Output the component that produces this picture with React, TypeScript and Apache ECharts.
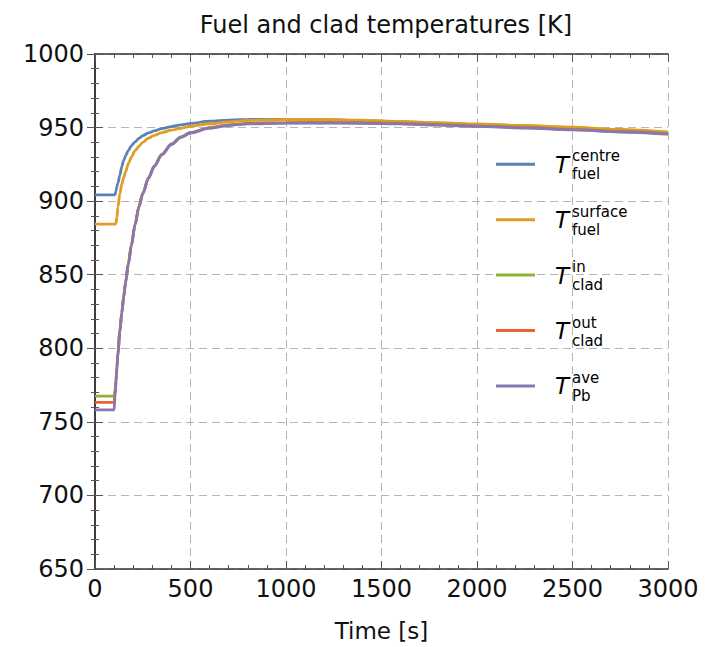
import React, { useEffect, useRef } from "react";
import * as echarts from "echarts";

const titleText = "Fuel and clad temperatures [K]";
const xName = "Time [s]";

const times = [0, 100, 105, 110, 115, 120, 130, 140, 150, 160, 175, 190, 210, 230, 250, 280, 310, 350, 400, 450, 500, 600, 700, 800, 1000, 1200, 1400, 1600, 1800, 2000, 2250, 2500, 2750, 3000];

const fuelCentre = [904.3, 904.3, 904.3, 907, 910, 912.3, 917.5, 923.5, 927.5, 930.8, 934.5, 937.6, 940.3, 942.7, 944.5, 946.4, 947.7, 949.3, 950.7, 951.8, 952.9, 954.3, 955.1, 955.5, 955.6, 955.3, 954.7, 953.9, 953, 952.1, 950.9, 949.8, 948.2, 946.5];
const fuelSurface = [884.4, 884.4, 884.4, 885, 889, 896, 905, 911.5, 916, 919.8, 925.6, 929.9, 934.3, 937.3, 940, 942.8, 944.7, 946.6, 948.2, 949.5, 950.9, 952.6, 953.9, 954.8, 955.5, 955.5, 955, 954.2, 953.3, 952.5, 951.4, 950.3, 948.7, 947];
const cladIn = [767.5, 767.5, 771.5, 779, 788, 797.2, 812, 824.3, 835.2, 845.1, 858, 870, 884.5, 896.4, 905.4, 915.9, 923.9, 931.9, 938.9, 943.7, 946.7, 950, 951.8, 952.9, 953.4, 953.5, 953.3, 952.9, 952.1, 951.2, 950.1, 948.8, 947.4, 945.9];
const cladOut = [763.2, 763.2, 769, 778, 787.2, 796.6, 811.5, 823.9, 834.8, 844.8, 857.7, 869.7, 884.2, 896.2, 905.2, 915.7, 923.7, 931.7, 938.7, 943.5, 946.5, 949.8, 951.6, 952.7, 953.2, 953.3, 953.1, 952.7, 951.9, 951, 949.9, 948.6, 947.2, 945.7];
const pbAve = [758.2, 758.2, 767, 777, 786.5, 796, 811, 823.5, 834.5, 844.5, 857.5, 869.5, 884, 896, 905, 915.5, 923.5, 931.5, 938.5, 943.3, 946.3, 949.6, 951.4, 952.5, 953, 953.1, 952.9, 952.5, 951.7, 950.8, 949.7, 948.4, 947, 945.5];

const seriesNames = ["T centre fuel", "T surface fuel", "T in clad", "T out clad", "T ave Pb"];
const legendSup = ["centre", "surface", "in", "out", "ave"];
const legendSub = ["fuel", "fuel", "clad", "clad", "Pb"];
const colors = ["#5E81B5", "#E19C24", "#8FB032", "#EB6235", "#8778B3"];
const seriesValues = [fuelCentre, fuelSurface, cladIn, cladOut, pbAve];

const FONT = "'DejaVu Sans', sans-serif";

export default function App() {
  const ref = useRef<HTMLDivElement>(null);
  useEffect(() => {
    if (!ref.current) return;
    const chart = echarts.init(ref.current, null, { renderer: "svg" });

    const series = seriesValues.map((vals, i) => ({
      name: seriesNames[i],
      type: "line",
      showSymbol: false,
      symbol: "none",
      smooth: 0.3,
      smoothMonotone: "x",
      data: times.map((t, j) => [t, vals[j]]),
      lineStyle: { color: colors[i], width: 2.8 },
      itemStyle: { color: colors[i] },
      z: 2 + i,
    }));

    const legendX = 496;
    const legendY0 = 164.3;
    const legendGap = 55.4;
    const graphic: any[] = [];
    seriesNames.forEach((_, i) => {
      const y = legendY0 + i * legendGap;
      graphic.push({
        type: "line",
        shape: { x1: legendX, y1: y, x2: legendX + 39, y2: y },
        style: { stroke: colors[i], lineWidth: 3 },
        z: 10,
      });
      graphic.push({
        type: "text",
        x: 555,
        y: y + 0.5,
        style: { text: "T", font: `italic 23px ${FONT}`, fill: "#000", verticalAlign: "middle", align: "left" },
        z: 10,
      });
      graphic.push({
        type: "text",
        x: 572,
        y: y + 1,
        style: {
          text: legendSup[i] + "\n" + legendSub[i],
          font: `15px ${FONT}`,
          lineHeight: 18,
          fill: "#000",
          verticalAlign: "middle",
          align: "left",
        },
        z: 10,
      });
    });

    const axisLine = { show: true, lineStyle: { color: "#333", width: 1.5 } };
    const tickStyle = { color: "#555", width: 1 };
    const fmt = (v: number) => String(v);

    chart.setOption({
      animation: false,
      backgroundColor: "#fff",
      title: {
        text: titleText,
        left: 381,
        textAlign: "center",
        top: 8,
        textStyle: { fontFamily: FONT, fontSize: 24, fontWeight: "normal", color: "#111" },
      },
      grid: { left: 95, right: 42, top: 54, bottom: 77, containLabel: false },
      xAxis: [
        {
          type: "value",
          min: 0,
          max: 3000,
          interval: 500,
          position: "bottom",
          name: xName,
          nameLocation: "middle",
          nameGap: 50,
          nameTextStyle: { fontFamily: FONT, fontSize: 23, color: "#111" },
          axisLine,
          axisTick: { show: true, inside: true, length: 8, lineStyle: tickStyle },
          minorTick: { show: true, splitNumber: 5, length: 4, lineStyle: tickStyle },
          axisLabel: { fontFamily: FONT, fontSize: 24, color: "#111", margin: 8, formatter: fmt },
          splitLine: { show: true, lineStyle: { color: "#b5b5b5", type: [8, 5], width: 1 } },
          minorSplitLine: { show: false },
        },
        {
          type: "value",
          min: 0,
          max: 3000,
          interval: 500,
          position: "top",
          axisLine,
          axisTick: { show: true, inside: true, length: 8, lineStyle: tickStyle },
          minorTick: { show: true, splitNumber: 5, length: 4, lineStyle: tickStyle },
          axisLabel: { show: false },
          splitLine: { show: false },
        },
      ],
      yAxis: [
        {
          type: "value",
          min: 650,
          max: 1000,
          interval: 50,
          position: "left",
          axisLine,
          axisTick: { show: true, inside: true, length: 8, lineStyle: tickStyle },
          minorTick: { show: true, splitNumber: 5, length: 4, lineStyle: tickStyle },
          axisLabel: { fontFamily: FONT, fontSize: 24, color: "#111", margin: 11, formatter: fmt },
          splitLine: { show: true, lineStyle: { color: "#b5b5b5", type: [8, 5], width: 1 } },
        },
        {
          type: "value",
          min: 650,
          max: 1000,
          interval: 50,
          position: "right",
          axisLine,
          axisTick: { show: true, inside: true, length: 8, lineStyle: tickStyle },
          minorTick: { show: true, splitNumber: 5, length: 4, lineStyle: tickStyle },
          axisLabel: { show: false },
          splitLine: { show: false },
        },
      ],
      legend: { show: false },
      series,
      graphic,
    });

    return () => chart.dispose();
  }, []);

  return (
    <div
      ref={ref}
      style={{ position: "fixed", left: 0, top: 0, width: 710, height: 647, background: "#fff" }}
    />
  );
}
